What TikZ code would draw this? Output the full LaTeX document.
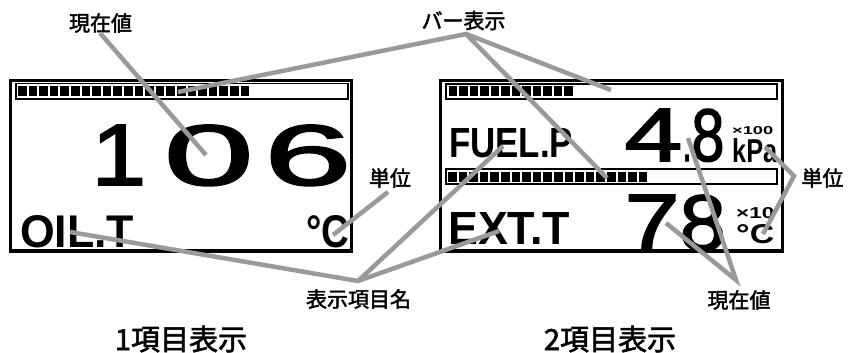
\documentclass[tikz,border=0pt]{standalone}
\usepackage{fontspec}
\usepackage{graphicx}
\setmainfont{Liberation Sans}
\newfontfamily\jpfont{Noto Sans CJK JP}[FakeBold=2]
\newfontfamily\lcdfont{Liberation Sans}
\newfontfamily\bigfont{Liberation Sans}[FakeBold=2]
\newcommand\rsz[3]{\resizebox{#1pt}{#2pt}{#3}}
\definecolor{leadgray}{HTML}{9A9A9A}
\tikzset{
  frame/.style={draw=black, line width=3.2},
  strip/.style={draw=black, line width=1.8},
  segfill/.style={fill=black},
  leader/.style={draw=leadgray, line width=4.5, line join=miter},
  lbl/.style={inner sep=0, font=\jpfont\fontsize{21}{21}\selectfont},
  ttl/.style={inner sep=0, anchor=base, text depth=0pt, font=\jpfont\fontsize{29}{29}\selectfont},
  lcdtxt/.style={inner sep=0, anchor=base west, font=\lcdfont\bfseries},
  bigtxt/.style={inner sep=0, anchor=base west, font=\bigfont}
}
\begin{document}
\begin{tikzpicture}[x=1pt,y=-1pt]
\useasboundingbox[fill=white] (0,0) rectangle (848,353);

% ---------- left panel ----------
\draw[frame] (10.5,80.5) rectangle (351.5,251);
\draw[strip] (16,83.5) rectangle (348,99);
\foreach \i in {0,...,21} \fill[segfill] ({18+10.6*\i},86) rectangle ++(8.6,9.5);
\node[bigtxt] (val1) at (91.3,185) {\rsz{54.7}{60}{1}\hspace{17.7pt}\rsz{89.5}{60}{0}\hspace{10.7pt}\rsz{87.2}{60}{6}};
\node[lcdtxt] (name1) at (20,247) {\rsz{114}{32}{OIL.T}};
\node[lcdtxt] (unit1) at (306,247) {\rsz{43}{32}{°C}};

% ---------- right panel ----------
\draw[frame] (440.5,80.5) rectangle (782.5,251);
\draw[strip] (446,84) rectangle (777,99);
\foreach \i in {0,...,11} \fill[segfill] ({448.5+10.5*\i},86) rectangle ++(8.5,9.5);
\draw[strip] (446,169) rectangle (777,184);
\foreach \i in {0,...,18} \fill[segfill] ({448+10.6*\i},172) rectangle ++(8.6,9.5);
\node[lcdtxt] (name2) at (449,157) {\rsz{124}{29}{FUEL.P}};
\node[lcdtxt] (name3) at (448,244) {\rsz{122}{32}{EXT.T}};
\node[bigtxt] (val2) at (624.2,161) {\rsz{58}{52}{4}\rsz{9}{6}{.}\rsz{33}{52}{8}};
\node[bigtxt] (val3) at (624.2,250) {\rsz{55.2}{55}{7}\rsz{46.2}{55}{8}};
\node[lcdtxt] (mult2) at (732,134) {\rsz{41}{8}{×100}};
\node[lcdtxt] (unit2) at (732,162) {\rsz{45}{24}{kPa}};
\node[lcdtxt] (mult3) at (736,218) {\rsz{38}{11}{×10}};
\node[lcdtxt] (unit3) at (736,243) {\rsz{38}{19}{°C}};

% ---------- labels ----------
\node[lbl] (curL) at (100.5,23) {現在値};
\node[lbl] (bar)  at (463.5,20.5) {バー表示};
\node[lbl] (unitL) at (390,178) {単位};
\node[lbl] (item) at (358.5,299) {表示項目名};
\node[lbl] (unitR) at (822.5,178) {単位};
\node[lbl] (curR) at (739,300) {現在値};
\node[ttl] (t1) at (181,350) {1項目表示};
\node[ttl] (t2) at (610,350) {2項目表示};

% ---------- leader points ----------
\coordinate (pCurL) at (100,33);
\coordinate (eCurL) at (206,155);
\coordinate (pBar) at (466,34);
\coordinate (eBar1) at (178,92);
\coordinate (eBar2) at (611,90);
\coordinate (eBar3) at (607,178);
\coordinate (pUnitL) at (388,192);
\coordinate (eUnitL) at (333,235);
\coordinate (pItem) at (358,281);
\coordinate (eItem1) at (70,232);
\coordinate (eItem2) at (503,146);
\coordinate (eItem3) at (499,231);
\coordinate (pUnitR) at (794,176);
\coordinate (eUnitR1) at (765,147);
\coordinate (eUnitR2) at (763,234);
\coordinate (pCurR) at (736,280);
\coordinate (eCurR1) at (688,138);
\coordinate (eCurR2) at (666,223);

\draw[leader] (pCurL) -- (eCurL);
\draw[leader] (eBar1) -- (pBar) -- (eBar2);
\draw[leader] (pBar) -- (eBar3);
\draw[leader] (pUnitL) -- (eUnitL);
\draw[leader] (eItem1) -- (pItem) -- (eItem2);
\draw[leader] (pItem) -- (eItem3);
\draw[leader] (eUnitR1) -- (pUnitR) -- (eUnitR2);
\draw[leader] (eCurR1) -- (pCurR) -- (eCurR2);
\end{tikzpicture}
\end{document}
